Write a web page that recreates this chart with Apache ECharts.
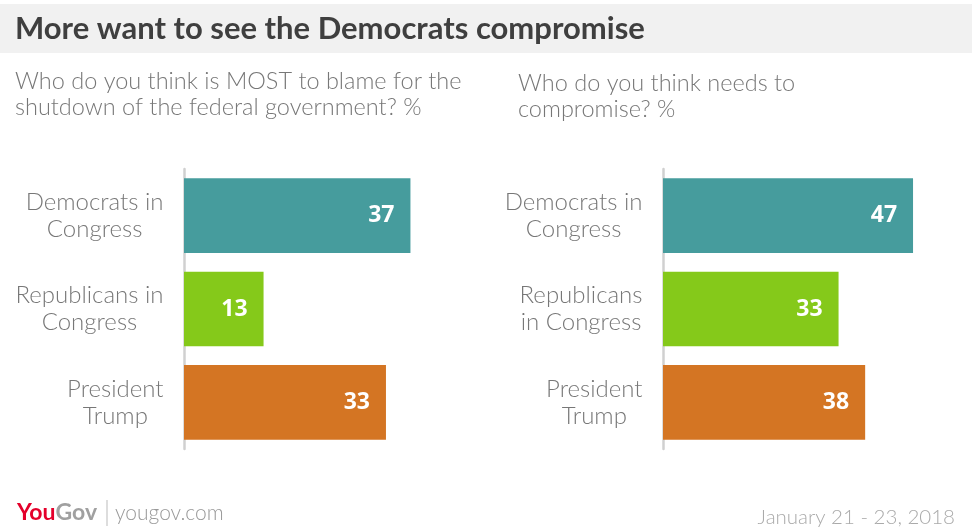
<!DOCTYPE html>
<html>
<head>
<meta charset="utf-8">
<script src="https://cdn.jsdelivr.net/npm/echarts@6/dist/echarts.min.js"></script>
<style>html,body{margin:0;padding:0;background:#fff}#c{width:972px;height:531px}</style>
</head>
<body>
<div id="c"></div>
<script>
const titleText = 'More want to see the Democrats compromise';
const subtitleLeft = 'Who do you think is MOST to blame for the\nshutdown of the federal government? %';
const subtitleRight = 'Who do you think needs to\ncompromise? %';
const categoriesLeft = ['Democrats in\nCongress', 'Republicans in\nCongress', 'President\nTrump'];
const categoriesRight = ['Democrats in\nCongress', 'Republicans\nin Congress', 'President\nTrump'];
const valuesLeft = [37, 13, 33];
const valuesRight = [47, 33, 38];
const barColors = ['#469c9d', '#85c91a', '#d47523'];
const footerDate = 'January 21 - 23, 2018';

const chart = echarts.init(document.getElementById('c'));
const labelFont = 'Lato, "Open Sans", sans-serif';
const labelSize = 24;

const mctx = document.createElement('canvas').getContext('2d');
mctx.font = '300 ' + labelSize + 'px ' + labelFont;
function blockWidth(s) {
  return Math.max.apply(null, s.split('\n').map(l => mctx.measureText(l).width)) + 1;
}

function yAxisCfg(idx, cats) {
  const rich = {};
  cats.forEach((c, i) => {
    rich['c' + i] = { width: blockWidth(c), align: 'center', color: '#777', fontSize: labelSize, lineHeight: 27, fontFamily: labelFont, fontWeight: 300 };
  });
  return {
    type: 'category', gridIndex: idx, data: cats, inverse: true, offset: 2,
    axisLine: { show: true, lineStyle: { color: '#d0d0d0', width: 2.5 } },
    axisTick: { show: false },
    axisLabel: {
      margin: 18, color: '#777', fontSize: labelSize, lineHeight: 27, fontFamily: labelFont, fontWeight: 300, align: 'right',
      formatter: (v, i) => v.split('\n').map(l => '{c' + i + '|' + l + '}').join('\n'),
      rich: rich
    }
  };
}
function xAxisCfg(idx) {
  return { type: 'value', gridIndex: idx, min: 0, max: 50, show: false, splitLine: { show: false } };
}
function seriesCfg(idx, vals) {
  return {
    type: 'bar', xAxisIndex: idx, yAxisIndex: idx, barCategoryGap: '20%',
    data: vals.map((v, i) => ({ value: v, itemStyle: { color: barColors[i] } })),
    label: { show: true, position: 'insideRight', distance: 16, color: '#fff', fontSize: 23, fontWeight: 700, fontFamily: '"Open Sans", sans-serif' },
    silent: true, animation: false
  };
}

chart.setOption({
  animation: false,
  title: [
    { text: subtitleLeft, left: 10, top: 63, textStyle: { color: '#777', fontSize: 23.5, fontWeight: 300, lineHeight: 26, fontFamily: labelFont } },
    { text: subtitleRight, left: 513, top: 65, textStyle: { color: '#777', fontSize: 23.5, fontWeight: 300, lineHeight: 26, fontFamily: labelFont } }
  ],
  grid: [
    { left: 184, top: 169, width: 306, height: 280 },
    { left: 663, top: 169, width: 266, height: 280 }
  ],
  xAxis: [xAxisCfg(0), xAxisCfg(1)],
  yAxis: [yAxisCfg(0, categoriesLeft), yAxisCfg(1, categoriesRight)],
  series: [seriesCfg(0, valuesLeft), seriesCfg(1, valuesRight)],
  graphic: [
    { type: 'rect', shape: { x: 0, y: 4, width: 972, height: 49 }, style: { fill: '#f1f1f1' }, z: -1 },
    { type: 'text', x: 15, y: 29, style: { text: titleText, fill: '#3f3f3f', font: 'bold 31px Lato, sans-serif', textVerticalAlign: 'middle' } },
    { type: 'text', x: 17, y: 513, style: { rich: { a: { fill: '#e4002b', font: 'bold 23px Lato, sans-serif' }, b: { fill: '#a0a0a0', font: 'bold 23px Lato, sans-serif' } }, text: '{a|You}{b|Gov}', textVerticalAlign: 'middle' } },
    { type: 'line', shape: { x1: 107, y1: 500, x2: 107, y2: 526 }, style: { stroke: '#bbb', lineWidth: 1 } },
    { type: 'text', x: 115, y: 513, style: { text: 'yougov.com', fill: '#999', font: '300 21px Lato, sans-serif', textVerticalAlign: 'middle' } },
    { type: 'text', x: 955, y: 517, style: { text: footerDate, fill: '#aaa', font: '300 20.5px Lato, sans-serif', textAlign: 'right', textVerticalAlign: 'middle' } }
  ]
});
</script>
</body>
</html>
